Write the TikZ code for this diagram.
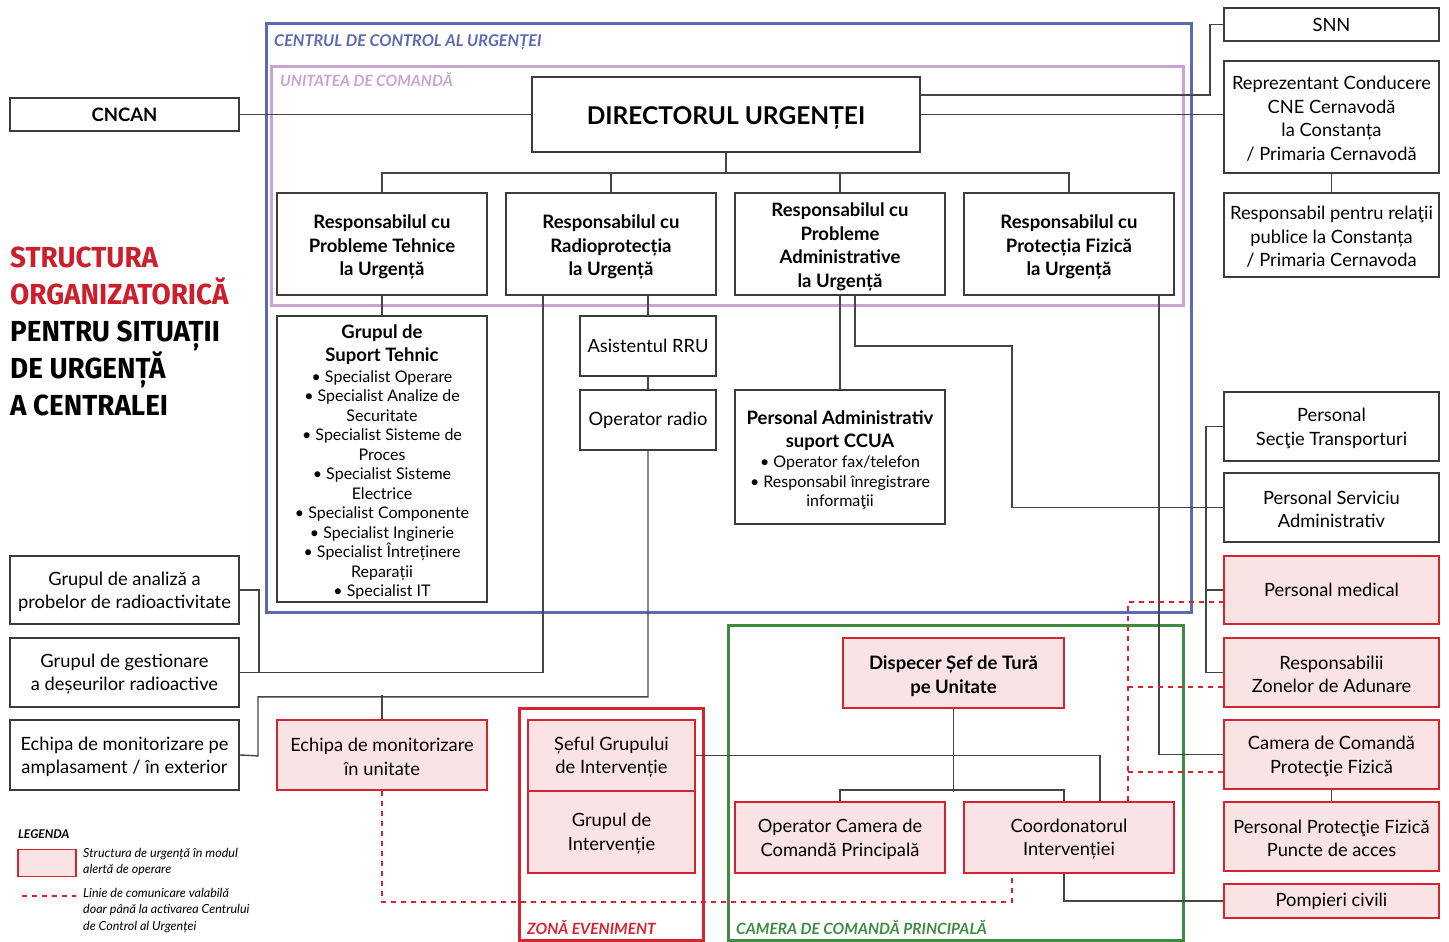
\documentclass[tikz,border=0pt]{standalone}
\usepackage{fontspec}
\usepackage{graphicx}
\setmainfont{Lato}
\newfontfamily\titlefont{Fira Sans}
\newcommand\firstln{\rule{0pt}{1.08em}}
\newcommand\firstlr{\rule{0pt}{0.92em}}
\definecolor{boxline}{HTML}{3C3C3C}
\definecolor{connc}{HTML}{454545}
\definecolor{redline}{HTML}{D7232F}
\definecolor{pinkfill}{HTML}{F9E3E5}
\definecolor{blueframe}{HTML}{5B6AB5}
\definecolor{pinkframe}{HTML}{CBA3D3}
\definecolor{greenframe}{HTML}{3D8B41}
\definecolor{titlered}{HTML}{CC1F2B}
\tikzset{
  box/.style={draw=boxline, line width=1.8pt, fill=white, align=center, inner sep=2pt,
    font=\fontsize{18.3}{23.5}\selectfont},
  bbox/.style={box, font=\fontsize{18.5}{23.5}\selectfont\bfseries},
  ebox/.style={box, fill=pinkfill, draw=redline},
  conn/.style={draw=connc, line width=1.4pt},
  dashl/.style={draw=redline, line width=1.4pt, dash pattern=on 5pt off 5pt},
  frame/.style={line width=3pt},
  flabel/.style={anchor=west, inner sep=0pt, font=\fontsize{15.5}{17}\selectfont\bfseries\itshape},
  ttl/.style={anchor=base west, inner sep=0pt, font=\titlefont\bfseries\fontsize{29}{29}\selectfont},
  legtext/.style={anchor=north west, inner sep=0pt, align=left, font=\fontsize{12.5}{16.5}\selectfont\itshape}
}
\begin{document}
\begin{tikzpicture}[x=1pt,y=-1pt]
\useasboundingbox (0,0) rectangle (1449,942);
% frames
\draw[frame, blueframe] (266,24) rectangle (1191,612);
\draw[frame, pinkframe] (271,67) rectangle (1183,305);
\draw[frame, greenframe] (728,625) rectangle (1183,940);
\draw[frame, redline] (519,708) rectangle (703,940);
\node[flabel, text=blueframe, font=\fontsize{16.2}{17}\selectfont\bfseries\itshape] (lblcc) at (274,42) {CENTRUL DE CONTROL AL URGENȚEI};
\node[flabel, text=pinkframe] (lbluc) at (280,80) {UNITATEA DE COMANDĂ};
\node[flabel, text=greenframe] (lblcam) at (736,928) {CAMERA DE COMANDĂ PRINCIPALĂ};
\node[flabel, text=redline] (lblzon) at (527,928) {ZONĂ EVENIMENT};

% title
\node[ttl, text=titlered] (t1) at (10,267) {\scalebox{0.96}[1]{STRUCTURA}};
\node[ttl, text=titlered] (t2) at (10,304) {\scalebox{0.96}[1]{ORGANIZATORICĂ}};
\node[ttl] (t3) at (10,341) {\scalebox{0.96}[1]{PENTRU SITUAȚII}};
\node[ttl] (t4) at (10,378) {\scalebox{0.96}[1]{DE URGENȚĂ}};
\node[ttl] (t5) at (10,415) {\scalebox{0.96}[1]{A CENTRALEI}};

% top nodes
\node[bbox, minimum width=229, minimum height=33] (cncan) at (124.5,114.5) {CNCAN};
\node[box, minimum width=388, minimum height=75, font=\fontsize{24.5}{28}\selectfont\bfseries] (dir) at (726,114.5) {\rule{0pt}{1em}DIRECTORUL URGENȚEI};
\node[bbox, minimum width=210, minimum height=102] (r1) at (382,244) {\firstln Responsabilul cu\\Probleme Tehnice\\la Urgență};
\node[bbox, minimum width=210, minimum height=102] (r2) at (611,244) {\firstln Responsabilul cu\\Radioprotecția\\la Urgență};
\node[bbox, minimum width=210, minimum height=102] (r3) at (840,244) {\firstln Responsabilul cu\\Probleme\\Administrative\\la Urgență};
\node[bbox, minimum width=210, minimum height=102] (r4) at (1069,244) {\firstln Responsabilul cu\\Protecția Fizică\\la Urgență};

\node[box, minimum width=210, minimum height=286, font=\fontsize{16}{19.5}\selectfont] (sup) at (382,459)
 {{\bfseries\fontsize{18.5}{20}\selectfont\firstln Grupul de}\\[3.5pt]
  {\bfseries\fontsize{18.5}{20}\selectfont Suport Tehnic}\\[1pt]
  • Specialist Operare\\
  • Specialist Analize de\\ Securitate\\
  • Specialist Sisteme de\\ Proces\\
  • Specialist Sisteme\\ Electrice\\
  • Specialist Componente\\
  • Specialist Inginerie\\
  • Specialist Întreținere\\ Reparații\\
  • Specialist IT};
\node[box, minimum width=136, minimum height=60] (rru) at (648,346) {Asistentul RRU};
\node[box, minimum width=136, minimum height=60] (radio) at (648,420) {Operator radio};
\node[box, minimum width=210, minimum height=134, font=\fontsize{16}{19.5}\selectfont] (pa) at (840,457)
 {{\bfseries\fontsize{18.5}{20}\selectfont\firstln Personal Administrativ}\\[3.5pt]
  {\bfseries\fontsize{18.5}{20}\selectfont suport CCUA}\\[1pt]
  • Operator fax/telefon\\
  • Responsabil înregistrare\\ informaţii};

% right column
\node[box, minimum width=215, minimum height=33] (snn) at (1331.5,24.5) {SNN};
\node[box, minimum width=215, minimum height=112] (rep) at (1331.5,117) {\firstlr Reprezentant Conducere\\CNE Cernavodă\\la Constanța\\/ Primaria Cernavodă};
\node[box, minimum width=215, minimum height=84] (rel) at (1331.5,235) {\firstlr Responsabil pentru relaţii\\publice la Constanța\\/ Primaria Cernavoda};
\node[box, minimum width=215, minimum height=69] (transp) at (1331.5,426.5) {\firstlr Personal\\Secţie Transporturi};
\node[box, minimum width=215, minimum height=69] (serv) at (1331.5,507.5) {\firstlr Personal Serviciu\\Administrativ};
\node[ebox, minimum width=215, minimum height=68] (med) at (1331.5,590) {Personal medical};
\node[ebox, minimum width=215, minimum height=69] (resp) at (1331.5,672.5) {\firstlr Responsabilii\\Zonelor de Adunare};
\node[ebox, minimum width=215, minimum height=69] (campf) at (1331.5,754.5) {\firstlr Camera de Comandă\\Protecţie Fizică};
\node[ebox, minimum width=215, minimum height=69] (ppf) at (1331.5,836.5) {\firstlr Personal Protecţie Fizică\\Puncte de acces};
\node[ebox, minimum width=215, minimum height=34] (pomp) at (1331.5,901) {Pompieri civili};

% left column
\node[box, minimum width=229, minimum height=68] (anal) at (124.5,590) {\firstlr Grupul de analiză a\\probelor de radioactivitate};
\node[box, minimum width=229, minimum height=69] (gest) at (124.5,672.5) {\firstlr Grupul de gestionare\\a deșeurilor radioactive};
\node[box, minimum width=229, minimum height=70] (ampl) at (124.5,755) {\firstlr Echipa de monitorizare pe\\amplasament / în exterior};
\node[ebox, minimum width=210, minimum height=70] (unit) at (382,755) {\firstlr Echipa de monitorizare\\în unitate};

% bottom centre
\node[ebox, minimum width=221, minimum height=70, font=\fontsize{18.5}{23.5}\selectfont\bfseries] (disp) at (953.5,673) {\firstln Dispecer Șef de Tură\\pe Unitate};
\node[ebox, minimum width=167, minimum height=71] (sef) at (611.5,755.5) {\firstlr Șeful Grupului\\de Intervenție};
\node[ebox, minimum width=167, minimum height=82] (gint) at (611.5,832) {\firstlr Grupul de\\Intervenție};
\node[ebox, minimum width=210, minimum height=71] (opc) at (840,837.5) {\firstlr Operator Camera de\\Comandă Principală};
\node[ebox, minimum width=210, minimum height=71] (coord) at (1069,837.5) {\firstlr Coordonatorul\\Intervenției};

% legend
\node[anchor=west, inner sep=0pt, font=\fontsize{12}{14}\selectfont\bfseries\itshape] (leg) at (18,834) {LEGENDA};
\node[draw=redline, line width=1.8pt, fill=pinkfill, minimum width=58, minimum height=27, inner sep=0pt] (legbox) at (47,863) {};
\node[legtext] (legt1) at (83,848) {Structura de urgență în modul\\alertă de operare};
\coordinate (legd1) at (22,896);
\coordinate (legd2) at (76,896);
\draw[dashl] (legd1) -- (legd2);
\node[legtext] (legt2) at (83,888) {Linie de comunicare valabilă\\doar până la activarea Centrului\\de Control al Urgenței};

% connectors
\draw[conn] (cncan.east) -- (dir.west);
\draw[conn] ([yshift=19.5pt]dir.east) -- ++(289,0) |- (snn.west);
\draw[conn] (dir.east) -- (dir.east -| rep.west);
\draw[conn] (rep.south) -- (rel.north);
\coordinate (dbus) at (726,173);
\draw[conn] (dir.south) -- (dbus);
\draw[conn] (r1.north) |- (r4.north |- dbus) -- (r4.north);
\draw[conn] (r2.north) -- (r2.north |- dbus);
\draw[conn] (r3.north) -- (r3.north |- dbus);
\draw[conn] (r1.south) -- (sup.north);
\draw[conn] ([xshift=-68pt]r2.south) |- (gest.east);
\draw[conn] (anal.east) -- ++(19,0) |- (gest.east);
\draw[conn] (rru.north |- r2.south) -- (rru.north);
\draw[conn] (rru.south) -- (radio.north);
\draw[conn] (radio.south) -- ++(0,246) -| ++(-390,59) -- (ampl.east);
\draw[conn] (unit.north) -- ++(0,-24);
\draw[conn] (r3.south) -- (pa.north);
\draw[conn] ([xshift=15pt]r3.south) -- ++(0,50) -- ++(157,0) |- (serv.west);
\draw[conn] (transp.west) -- ++(-17,0) |- (resp.west);
\draw[conn] ([xshift=-17pt]med.west) -- (med.west);
\draw[conn] ([xshift=90pt]r4.south) |- (campf.west);
\draw[conn] (campf.south) -- (ppf.north);
\draw[conn] (disp.south) -- ++(0,83);
\draw[conn] (opc.north) -- ++(0,-11) -- ++(224,0) -- ++(0,11);
\draw[conn] (sef.east) -| ([xshift=31pt]coord.north);
\draw[conn] ([xshift=-5pt]coord.south) |- (pomp.west);
\draw[dashl] ([xshift=59pt]coord.north) |- ([yshift=-12pt]med.west);
\draw[dashl] ([yshift=-14.5pt]resp.west) -- ++(-96,0);
\draw[dashl] ([yshift=-17.5pt]campf.west) -- ++(-96,0);
\draw[dashl] (unit.south) -- ++(0,111) -| ([xshift=-57pt]coord.south);
\end{tikzpicture}
\end{document}
